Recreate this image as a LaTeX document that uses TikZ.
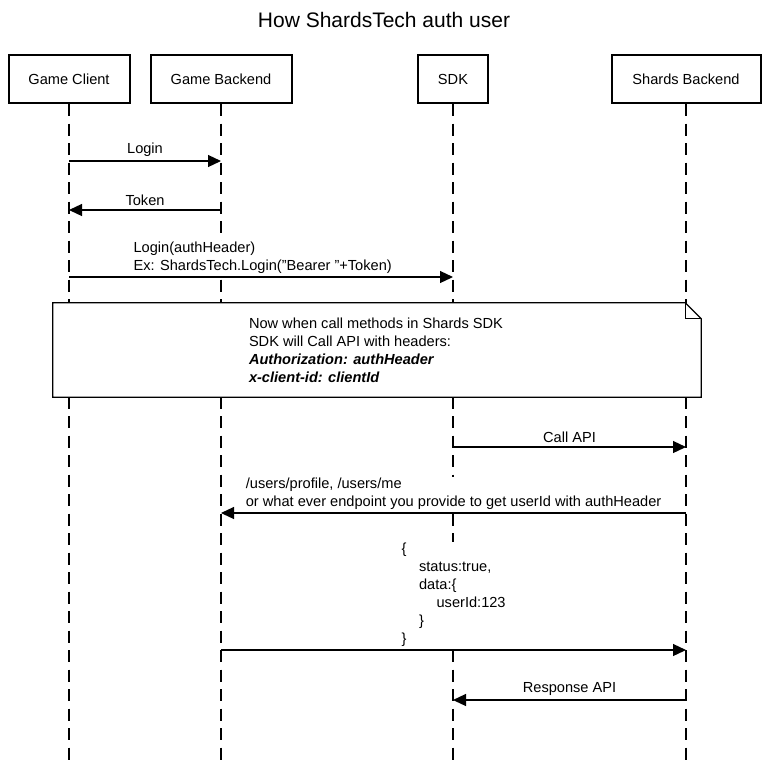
\documentclass[tikz,border=0pt]{standalone}
\usepackage{fontspec}
\setmainfont{Liberation Sans}
\usepackage{tikz}
\usetikzlibrary{arrows.meta,calc}

\begin{document}
\begin{tikzpicture}[x=1pt, y=-1pt,
                    font=\fontsize{14.6}{18}\selectfont,
                    actor/.style={draw, line width=2pt,
                    minimum height=48pt, inner sep=0pt},
                    lifeline/.style={line width=1.2pt,
                    dash pattern=on 12pt off 7.5pt},
                    msg/.style={line width=1.2pt,
                    -{Triangle[length=13pt,width=12pt]}},
                    lbl/.style={fill=white, inner sep=1pt, align=left},
                    notebox/.style={minimum width=648pt, minimum height=94pt}]
    \useasboundingbox (0,0) rectangle (767,761);

    \node[font=\fontsize{21}{25}\selectfont](title) at (384,20) {How ShardsTech auth user};

    % actors and lifelines
    \node[actor, minimum width=121pt](gc) at (69,79) {Game Client};
    \node[actor, minimum width=141pt](gb) at (221,79) {Game Backend};
    \node[actor, minimum width=70pt](sdk) at (453,79) {SDK};
    \node[actor, minimum width=149pt](sb) at (686,79) {Shards Backend};
    \coordinate (bottom) at (0,761);
    \foreach \a in {gc,gb,sdk,sb}
        \draw[lifeline] (\a.south) -- (\a |- bottom);

    % rows of the messages
    \foreach \n/\y in {r1/161,r2/210,r3/277,r4/447,r5/513,r6/650,r7/700}
        \coordinate (\n) at (0,\y);

    \draw[msg] (gc |- r1) -- node[lbl, above=3pt] {Login} (gb |- r1);
    \draw[msg] (gb |- r2) -- node[lbl, above=3pt] {Token} (gc |- r2);
    \draw[msg] (gc |- r3) -- node[lbl, anchor=south west, pos=0.164, yshift=2pt]
        {Login(authHeader)\\Ex: ShardsTech.Login("Bearer "+Token)} (sdk |- r3);

    % note with folded corner
    \node[notebox](note) at (377,350) {};
    \draw[line width=1.2pt, fill=white, line join=miter] (note.north west)
        -- ([xshift=-16pt]note.north east) -- ([yshift=-16pt]note.north east)
        -- (note.south east) -- (note.south west) -- cycle;
    \draw[line width=1.2pt] ([xshift=-16pt]note.north east)
        -- ([xshift=-16pt,yshift=-16pt]note.north east) -- ([yshift=-16pt]note.north east);
    \node[align=left, anchor=north west, inner sep=0pt](notetext)
        at ([xshift=196pt,yshift=-15pt]note.north west)
        {Now when call methods in Shards SDK\\SDK will Call API with headers:\\
         \textbf{\textit{Authorization: authHeader}}\\\textbf{\textit{x-client-id: clientId}}};

    \draw[msg] (sdk |- r4) -- node[lbl, above=3pt] {Call API} (sb |- r4);
    \draw[msg] (sb |- r5) -- node[lbl, anchor=south west, pos=0.95, yshift=2pt]
        {/users/profile, /users/me\\or what ever endpoint you provide to get userId with authHeader} (gb |- r5);
    \draw[msg] (gb |- r6) -- node[lbl, anchor=south west, pos=0.385, yshift=2pt]
        {\{\\\hspace*{17.5pt}status:true,\\\hspace*{17.5pt}data:\{\\\hspace*{35pt}userId:123\\\hspace*{17.5pt}\}\\\}} (sb |- r6);
    \draw[msg] (sb |- r7) -- node[lbl, above=3pt] {Response API} (sdk |- r7);

\end{tikzpicture}
\end{document}
